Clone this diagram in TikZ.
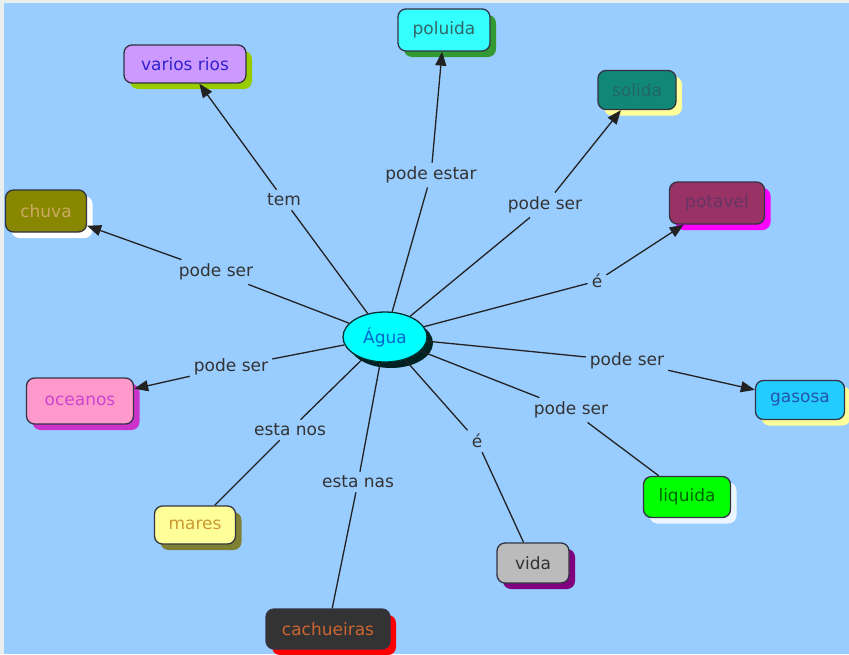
\documentclass[tikz,border=0pt]{standalone}
\usepackage{fontspec}
\setmainfont{DejaVu Sans}
\usetikzlibrary{shapes.geometric,arrows.meta,shadows}
\definecolor{bgc}{HTML}{99CCFF}
\definecolor{bord}{HTML}{333344}
\definecolor{linec}{HTML}{222222}
\definecolor{labc}{HTML}{333333}
\definecolor{edgec}{HTML}{E8EEEC}
% fills / texts / shadows
\definecolor{aguaF}{HTML}{00FFFF}\definecolor{aguaT}{HTML}{0066CC}\definecolor{aguaS}{HTML}{002222}\definecolor{aguaB}{HTML}{003333}
\definecolor{riosF}{HTML}{CC99FF}\definecolor{riosT}{HTML}{3322CC}\definecolor{riosS}{HTML}{99CC00}
\definecolor{polF}{HTML}{33FFFF}\definecolor{polT}{HTML}{336666}\definecolor{polS}{HTML}{339933}
\definecolor{solF}{HTML}{118877}\definecolor{solT}{HTML}{226666}\definecolor{solS}{HTML}{FFFF99}
\definecolor{potF}{HTML}{993366}\definecolor{potT}{HTML}{663366}\definecolor{potS}{HTML}{FF00FF}
\definecolor{chuF}{HTML}{888800}\definecolor{chuT}{HTML}{CCAA66}\definecolor{chuS}{HTML}{FFFFFF}
\definecolor{oceF}{HTML}{FF99CC}\definecolor{oceT}{HTML}{CC44CC}\definecolor{oceS}{HTML}{CC33CC}
\definecolor{gasF}{HTML}{22CCFF}\definecolor{gasT}{HTML}{2255AA}\definecolor{gasS}{HTML}{FFFF99}
\definecolor{marF}{HTML}{FFFF99}\definecolor{marT}{HTML}{CC9933}\definecolor{marS}{HTML}{808033}
\definecolor{liqF}{HTML}{00FF00}\definecolor{liqT}{HTML}{006600}\definecolor{liqS}{HTML}{EBF5FF}
\definecolor{vidF}{HTML}{BBBBBB}\definecolor{vidT}{HTML}{333333}\definecolor{vidS}{HTML}{800080}
\definecolor{cacF}{HTML}{333333}\definecolor{cacT}{HTML}{CC6633}\definecolor{cacS}{HTML}{FF0000}
\tikzset{
  concept/.style={rounded corners=8pt, draw=bord, line width=1.3pt, inner sep=0pt,
    font=\fontsize{17}{19}\selectfont, align=center},
  sh/.style={drop shadow={shadow xshift=6pt, shadow yshift=-6pt, fill=#1, opacity=1}},
  lab/.style={text=labc, inner sep=4pt, font=\fontsize{17}{19}\selectfont},
  link/.style={draw=linec, line width=1.3pt},
  arr/.style={link, -{Triangle[length=14pt,width=11pt]}}
}
\begin{document}
\begin{tikzpicture}[x=1pt,y=-1pt]
\useasboundingbox (0,0) rectangle (849,654);
\fill[bgc] (0,0) rectangle (849,654);
\fill[edgec] (0,0) rectangle (4,654);
\fill[edgec] (0,0) rectangle (849,3);

% central
\node[ellipse, draw=aguaB, line width=1.3pt, fill=aguaF, text=aguaT,
  minimum width=84pt, minimum height=50pt, inner sep=0pt,
  font=\fontsize{17}{19}\selectfont, sh=aguaS] (agua) at (385,337) {Água};

% concepts
\node[concept, fill=riosF, text=riosT, sh=riosS, minimum width=122pt, minimum height=38pt] (rios) at (185,64) {varios rios};
\node[concept, fill=polF, text=polT, sh=polS, minimum width=92pt, minimum height=42pt] (poluida) at (444,30) {poluida};
\node[concept, fill=solF, text=solT, sh=solS, minimum width=78pt, minimum height=39pt] (solida) at (637,90) {solida};
\node[concept, fill=potF, text=potT, sh=potS, minimum width=95pt, minimum height=42pt] (potavel) at (717,203) {potavel};
\node[concept, fill=chuF, text=chuT, sh=chuS, minimum width=81pt, minimum height=42pt] (chuva) at (46,211) {chuva};
\node[concept, fill=oceF, text=oceT, sh=oceS, minimum width=107pt, minimum height=46pt] (oceanos) at (80,401) {oceanos};
\node[concept, fill=gasF, text=gasT, sh=gasS, minimum width=89pt, minimum height=39pt] (gasosa) at (800,400) {gasosa};
\node[concept, fill=marF, text=marT, sh=marS, minimum width=81pt, minimum height=38pt] (mares) at (195,525) {mares};
\node[concept, fill=liqF, text=liqT, sh=liqS, minimum width=87pt, minimum height=41pt] (liquida) at (687,497) {liquida};
\node[concept, fill=vidF, text=vidT, sh=vidS, minimum width=72pt, minimum height=40pt] (vida) at (533,563) {vida};
\node[concept, fill=cacF, text=cacT, sh=cacS, minimum width=124pt, minimum height=40pt] (cach) at (328,629) {cachueiras};

% labels
\node[lab] (l1) at (284,200) {tem};
\node[lab] (l2) at (431,175) {pode estar};
\node[lab] (l3) at (545,205) {pode ser};
\node[lab] (l4) at (597,281) {é};
\node[lab] (l5) at (216,272) {pode ser};
\node[lab] (l6) at (231,367) {pode ser};
\node[lab] (l7) at (627,361) {pode ser};
\node[lab] (l8) at (571,410) {pode ser};
\node[lab] (l9) at (290,430) {esta nos};
\node[lab] (l10) at (477,441) {é};
\node[lab] (l11) at (358,482) {esta nas};

% links
\draw[link] (agua) -- (l1); \draw[arr] (l1) -- (rios);
\draw[link] (agua) -- (l2); \draw[arr] (l2) -- (poluida);
\draw[link] (agua) -- (l3); \draw[arr] (l3) -- (solida);
\draw[link] (agua) -- (l4); \draw[arr] (l4) -- (potavel);
\draw[link] (agua) -- (l5); \draw[arr] (l5) -- (chuva);
\draw[link] (agua) -- (l6); \draw[arr] (l6) -- (oceanos);
\draw[link] (agua) -- (l7); \draw[arr] (l7) -- (gasosa);
\draw[link] (agua) -- (l8); \draw[link] (l8) -- (liquida);
\draw[link] (agua) -- (l9); \draw[link] (l9) -- (mares);
\draw[link] (agua) -- (l10); \draw[link] (l10) -- (vida);
\draw[link] (agua) -- (l11); \draw[link] (l11) -- (cach);
\end{tikzpicture}
\end{document}
